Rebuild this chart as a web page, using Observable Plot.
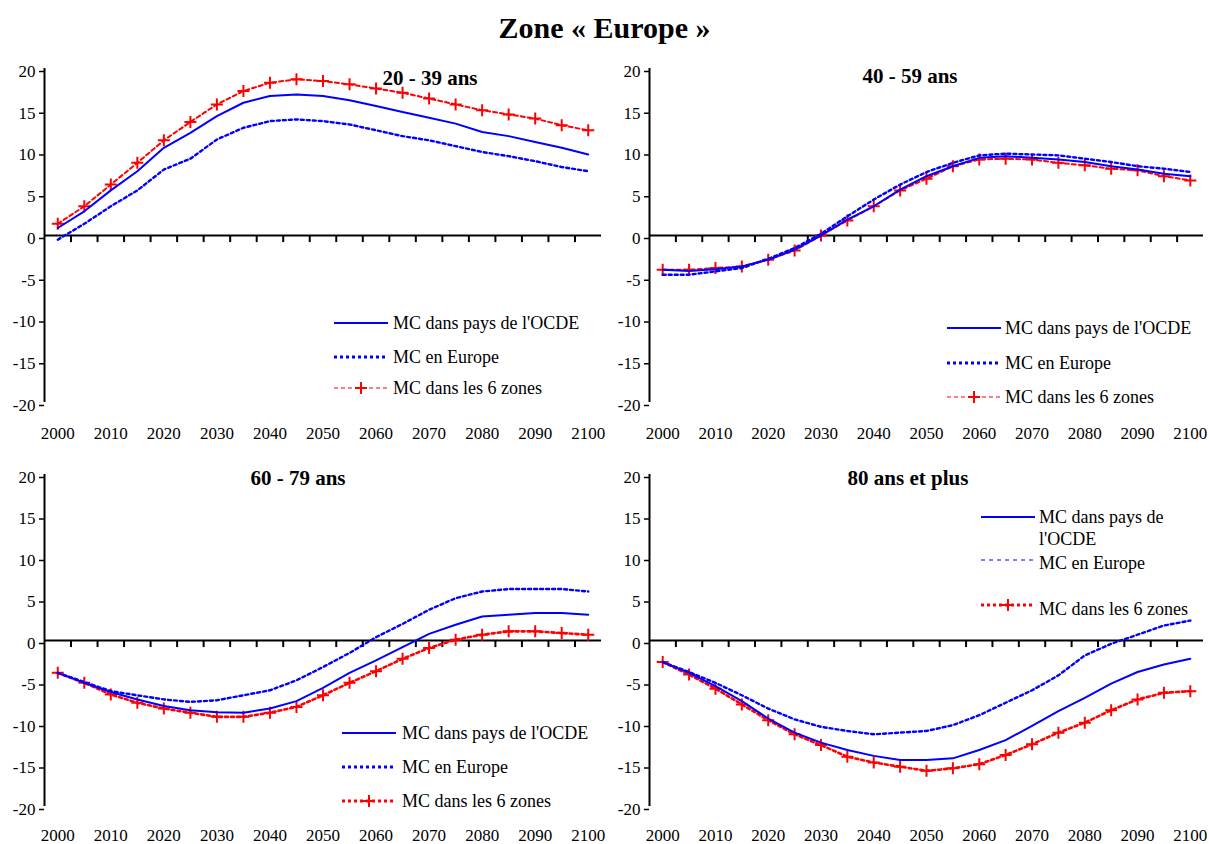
<!DOCTYPE html>
<html>
<head>
<meta charset="utf-8">
<script src="https://cdn.jsdelivr.net/npm/d3@7"></script>
<script src="https://cdn.jsdelivr.net/npm/@observablehq/plot@0.6"></script>
<style>
  body { margin: 0; background: #fff; }
  #chart { position: relative; width: 1209px; height: 844px; overflow: hidden;
           font-family: "Liberation Serif", "Times New Roman", serif; color: #000; }
  .title { position: absolute; left: 0; width: 1209px; top: 9px; text-align: center;
           font-weight: bold; font-size: 30px; line-height: 38px; }
  .panel { position: absolute; }
  .ptitle { position: absolute; font-weight: bold; font-size: 21px; line-height: 24px;
            transform: translateX(-50%); white-space: nowrap; }
  .lgline { position: absolute; }
  .lgtext { position: absolute; font-size: 18px; line-height: 22px; white-space: nowrap; }
  .lgtext.wrap { white-space: normal; width: 150px; }
</style>
</head>
<body>
<div id="chart"><div class="title">Zone « Europe »</div></div>
<script>
// Years on the category axis (5-year steps)
const years = [2000, 2005, 2010, 2015, 2020, 2025, 2030, 2035, 2040, 2045, 2050,
               2055, 2060, 2065, 2070, 2075, 2080, 2085, 2090, 2095, 2100];
const xTickLabels = [2000, 2010, 2020, 2030, 2040, 2050, 2060, 2070, 2080, 2090, 2100];
const yTicks = [-20, -15, -10, -5, 0, 5, 10, 15, 20];

const panelTitles = ["20 - 39 ans", "40 - 59 ans", "60 - 79 ans", "80 ans et plus"];
const seriesNames = ["MC dans pays de l'OCDE", "MC en Europe", "MC dans les 6 zones"];

// 20 - 39 ans
const ocde_20_39   = [0.9, 2.9, 5.4, 7.7, 10.5, 12.3, 14.3, 15.9, 16.7, 16.9, 16.7, 16.2, 15.5, 14.8, 14.1, 13.4, 12.4, 11.9, 11.2, 10.5, 9.7];
const europe_20_39 = [-0.5, 1.4, 3.5, 5.4, 7.9, 9.2, 11.5, 12.9, 13.7, 13.9, 13.7, 13.3, 12.6, 11.9, 11.4, 10.7, 10.0, 9.5, 8.9, 8.2, 7.7];
const zones_20_39  = [1.4, 3.5, 6.1, 8.7, 11.4, 13.6, 15.7, 17.3, 18.3, 18.7, 18.5, 18.1, 17.6, 17.1, 16.4, 15.7, 15.0, 14.5, 14.0, 13.2, 12.6];

// 40 - 59 ans
const ocde_40_59   = [-4.1, -4.25, -4.05, -3.7, -2.9, -1.7, 0.0, 1.9, 3.5, 5.5, 7.1, 8.3, 9.3, 9.5, 9.3, 9.1, 8.8, 8.3, 7.9, 7.4, 7.1];
const europe_40_59 = [-4.7, -4.7, -4.3, -3.9, -2.8, -1.5, 0.2, 2.3, 4.3, 6.1, 7.6, 8.7, 9.6, 9.8, 9.7, 9.6, 9.2, 8.8, 8.3, 8.0, 7.6];
const zones_40_59  = [-4.1, -4.1, -3.9, -3.7, -2.9, -1.8, 0.0, 1.8, 3.5, 5.4, 6.8, 8.3, 9.1, 9.2, 9.1, 8.7, 8.4, 8.0, 7.8, 7.1, 6.6];

// 60 - 79 ans
const ocde_60_79   = [-3.9, -5.1, -6.2, -7.1, -7.9, -8.4, -8.65, -8.7, -8.2, -7.3, -5.7, -3.9, -2.4, -0.8, 0.8, 1.9, 2.9, 3.1, 3.3, 3.3, 3.1];
const europe_60_79 = [-3.9, -5.0, -6.1, -6.6, -7.1, -7.4, -7.2, -6.6, -6.0, -4.8, -3.2, -1.5, 0.4, 2.0, 3.7, 5.1, 5.9, 6.2, 6.2, 6.2, 5.9];
const zones_60_79  = [-3.9, -5.1, -6.5, -7.5, -8.2, -8.7, -9.2, -9.2, -8.7, -8.0, -6.6, -5.1, -3.7, -2.2, -0.9, 0.1, 0.7, 1.1, 1.1, 0.9, 0.7];

// 80 ans et plus
const ocde_80   = [-2.6, -3.9, -5.5, -7.3, -9.4, -11.1, -12.3, -13.2, -13.9, -14.4, -14.4, -14.2, -13.2, -12.0, -10.3, -8.5, -6.9, -5.2, -3.8, -2.9, -2.2];
const europe_80 = [-2.6, -3.8, -5.1, -6.6, -8.2, -9.5, -10.4, -10.9, -11.3, -11.1, -10.9, -10.2, -9.0, -7.5, -6.0, -4.2, -1.8, -0.4, 0.7, 1.8, 2.4];
const zones_80  = [-2.6, -4.1, -5.8, -7.7, -9.6, -11.3, -12.6, -14.0, -14.7, -15.2, -15.7, -15.4, -14.9, -13.8, -12.5, -11.1, -9.9, -8.4, -7.1, -6.3, -6.1];

const BLUE = "#0000ff", RED = "#ff0000";

// Category band edges: half a step either side of each year
const step = years[1] - years[0];
const xDomain = [years[0] - step / 2, years[years.length - 1] + step / 2];
const boundaries = years.slice(1).map(y => y - step / 2);

// Thin "+" marker drawn as two strokes
const plusSymbol = {
  draw(ctx, size) {
    const r = Math.sqrt(size / Math.PI);
    ctx.moveTo(-r, 0); ctx.lineTo(r, 0);
    ctx.moveTo(0, -r); ctx.lineTo(0, r);
  }
};

const panels = [
  { values: [ocde_20_39, europe_20_39, zones_20_39], left: 0, top: 55, width: 604, height: 397,
    mt: 13, mb: 50, ml: 44, mr: 3, pad: 24, tx: 430, ty: 78, redThick: false, euThin: false,
    lg: { lx: 334, tx: 393, lines: [323, 357, 388], texts: [323, 357, 388], wrap: false } },
  { values: [ocde_40_59, europe_40_59, zones_40_59], left: 604, top: 55, width: 605, height: 397,
    mt: 13, mb: 50, ml: 45, mr: 6, pad: 24, tx: 910, ty: 76, redThick: false, euThin: false,
    lg: { lx: 947, tx: 1005, lines: [328, 363, 397], texts: [328, 363, 397], wrap: false } },
  { values: [ocde_60_79, europe_60_79, zones_60_79], left: 0, top: 455, width: 604, height: 389,
    mt: 19, mb: 38, ml: 44, mr: 3, pad: 22, tx: 298, ty: 478, redThick: true, euThin: false,
    lg: { lx: 342, tx: 402, lines: [733, 767, 801], texts: [733, 767, 801], wrap: false } },
  { values: [ocde_80, europe_80, zones_80], left: 604, top: 455, width: 605, height: 389,
    mt: 19, mb: 38, ml: 45, mr: 6, pad: 22, tx: 908, ty: 478, redThick: true, euThin: true,
    lg: { lx: 981, tx: 1039, lines: [517, 560, 605], texts: [517, 563, 609], wrap: true } }
];

const chart = document.getElementById("chart");

panels.forEach((p, i) => {
  const [ocde, europe, zones] = p.values;
  const rows = years.map((year, k) => ({ year, ocde: ocde[k], europe: europe[k], zones: zones[k] }));

  const svg = Plot.plot({
    width: p.width, height: p.height,
    marginTop: p.mt, marginBottom: p.mb, marginLeft: p.ml, marginRight: p.mr,
    style: { fontFamily: "'Liberation Serif', 'Times New Roman', serif", fontSize: "17px",
             color: "#000", background: "transparent", overflow: "visible" },
    x: { type: "linear", domain: xDomain, label: null },
    y: { type: "linear", domain: [-20, 20], label: null },
    marks: [
      Plot.axisY({ ticks: yTicks, tickSize: 5, tickPadding: 4, tickFormat: d => String(d),
                   strokeWidth: 1.5, fontSize: 17, dy: 3, label: null }),
      Plot.axisX({ ticks: xTickLabels, tickSize: 0, tickPadding: p.pad, tickFormat: d => String(d),
                   fontSize: 17, label: null }),
      // zero line with category tick marks, and vertical axis line
      Plot.ruleY([0], { stroke: "#000", strokeWidth: 2 }),
      Plot.ruleX(boundaries, { y1: 0, y2: -0.85, stroke: "#000", strokeWidth: 2 }),
      Plot.ruleX([xDomain[0]], { stroke: "#000", strokeWidth: 2 }),
      // series
      Plot.line(rows, { x: "year", y: "zones", stroke: RED,
                        strokeWidth: p.redThick ? 2.6 : 2, strokeDasharray: p.redThick ? "3,3" : "4,3" }),
      Plot.dot(rows, { x: "year", y: "zones", symbol: plusSymbol, r: 6, stroke: RED,
                       strokeWidth: 2, fill: "none" }),
      Plot.line(rows, { x: "year", y: "europe", stroke: BLUE, strokeWidth: 2.4, strokeDasharray: "3,3" }),
      Plot.line(rows, { x: "year", y: "ocde", stroke: BLUE, strokeWidth: 2 })
    ]
  });
  const holder = document.createElement("div");
  holder.className = "panel";
  holder.style.left = p.left + "px";
  holder.style.top = p.top + "px";
  holder.appendChild(svg);
  chart.appendChild(holder);

  // panel title
  const t = document.createElement("div");
  t.className = "ptitle";
  t.textContent = panelTitles[i];
  t.style.left = p.tx + "px";
  t.style.top = (p.ty - 12) + "px";
  chart.appendChild(t);

  // legend
  const styles = [
    { stroke: BLUE, width: 2, dash: null, plus: false },
    p.euThin ? { stroke: BLUE, width: 1.2, dash: "4,4", plus: false }
             : { stroke: BLUE, width: 3, dash: "3,3", plus: false },
    p.redThick ? { stroke: RED, width: 3, dash: "3,3", plus: true }
               : { stroke: RED, width: 1.2, dash: "4,3", plus: true }
  ];
  seriesNames.forEach((name, k) => {
    const st = styles[k];
    const ns = "http://www.w3.org/2000/svg";
    const s = document.createElementNS(ns, "svg");
    s.setAttribute("class", "lgline");
    s.setAttribute("width", 56); s.setAttribute("height", 14);
    s.style.left = p.lg.lx + "px";
    s.style.top = (p.lg.lines[k] - 7) + "px";
    const ln = document.createElementNS(ns, "line");
    ln.setAttribute("x1", 0); ln.setAttribute("x2", 54);
    ln.setAttribute("y1", 7); ln.setAttribute("y2", 7);
    ln.setAttribute("stroke", st.stroke); ln.setAttribute("stroke-width", st.width);
    if (st.dash) ln.setAttribute("stroke-dasharray", st.dash);
    s.appendChild(ln);
    if (st.plus) {
      const pl = document.createElementNS(ns, "path");
      pl.setAttribute("d", "M21,7H33M27,1V13");
      pl.setAttribute("stroke", RED); pl.setAttribute("stroke-width", 2);
      s.appendChild(pl);
    }
    chart.appendChild(s);
    const tx = document.createElement("div");
    tx.className = "lgtext" + (p.lg.wrap && k === 0 ? " wrap" : "");
    tx.textContent = name;
    tx.style.left = p.lg.tx + "px";
    tx.style.top = (p.lg.texts[k] - 11) + "px";
    chart.appendChild(tx);
  });
});
</script>
</body>
</html>
